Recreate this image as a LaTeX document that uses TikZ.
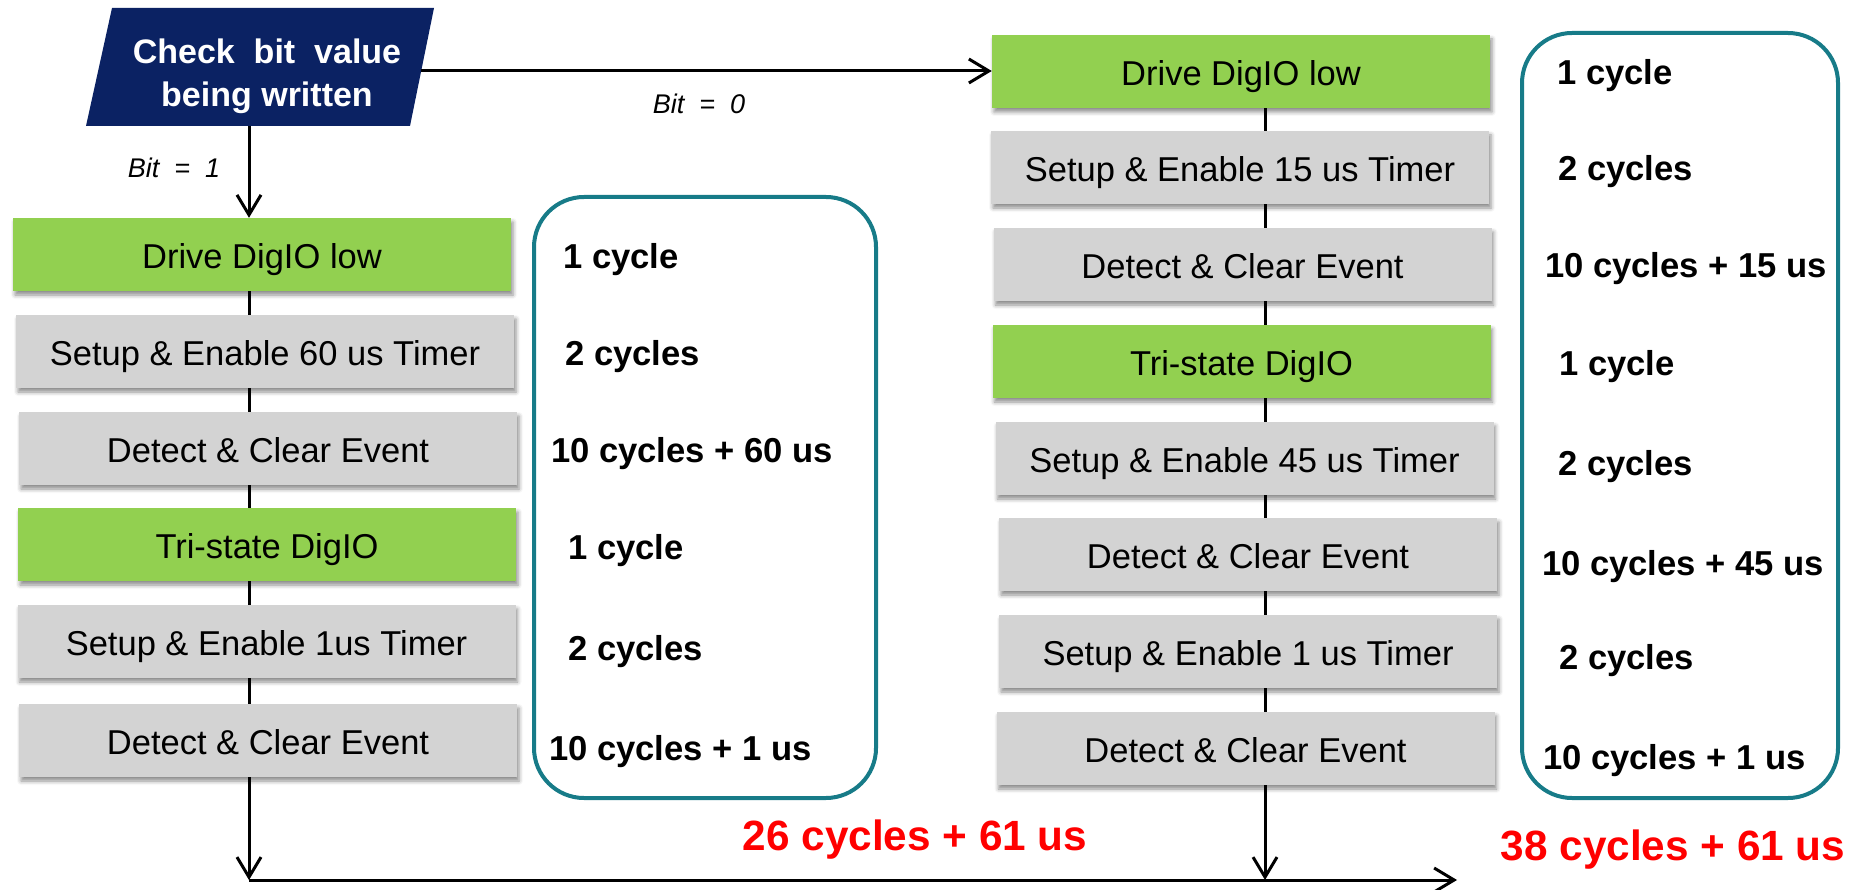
\documentclass[tikz,border=0pt]{standalone}
\usepackage{fontspec}
\setmainfont{Liberation Sans}
\usetikzlibrary{arrows.meta,shadows.blur,calc}

\definecolor{stepgreen}{HTML}{92D050}
\definecolor{stepgray}{HTML}{D3D3D3}
\definecolor{navy}{HTML}{0B2263}
\definecolor{tealline}{HTML}{177B88}
\definecolor{totalred}{HTML}{FF0000}

\tikzset{
  stepbox/.style={minimum width=498pt, minimum height=73pt, inner sep=0pt,
    text height=35pt, text depth=7pt,
    font=\fontsize{34.5}{40}\selectfont,
    blur shadow={shadow xshift=2pt, shadow yshift=-4pt, shadow blur radius=4pt, shadow opacity=45}},
  greenbox/.style={stepbox, fill=stepgreen},
  graybox/.style={stepbox, fill=stepgray},
  timebox/.style={draw=tealline, line width=4pt, rounded corners=50pt, inner sep=0pt},
  cyc/.style={anchor=west, inner sep=0pt, yshift=-4pt, font=\fontsize{34.6}{40}\selectfont\bfseries},
  total/.style={inner sep=0pt, yshift=-3pt, text=totalred, font=\fontsize{42.3}{48}\selectfont\bfseries},
  bitlabel/.style={inner sep=0pt, font=\fontsize{27}{32}\selectfont\itshape},
  link/.style={line width=3pt},
  flow/.style={line width=3pt, -{Straight Barb[length=20pt, width=24pt, line width=3pt]}}
}

\begin{document}
\begin{tikzpicture}[x=1pt, y=-1pt]
\useasboundingbox (0,0) rectangle (1851,890);

% decision block
\fill[navy] (112,8) -- (434,8) -- (410,126) -- (86,126) -- cycle;
\node[text=white, align=center, inner sep=0pt, font=\fontsize{34}{43}\selectfont\bfseries]
  (check) at (267,76) {Check\ \ bit\ \ value\\being written};
\coordinate (chkR) at (421,71);
\coordinate (chkB) at (249,126);
\coordinate (spineL) at (249,0);
\coordinate (spineR) at (1265,0);

% vertical spines (drawn first so the boxes sit on top)
\coordinate (l1n) at (249,218);
\coordinate (l6s) at (249,777);
\coordinate (r1s) at (1265,108);
\coordinate (r8s) at (1265,785);
\draw[link] (l1n) -- (l6s);
\draw[link] (r1s) -- (r8s);

% left branch (Bit = 1)
\node[greenbox] (l1) at (262,254.5) {Drive DigIO low};
\node[graybox]  (l2) at (265,351.5) {Setup \& Enable 60 us Timer};
\node[graybox]  (l3) at (268,448.5) {Detect \& Clear Event};
\node[greenbox] (l4) at (267,544.5) {Tri-state DigIO};
\node[graybox]  (l5) at (266.5,641.5) {Setup \& Enable 1us Timer};
\node[graybox]  (l6) at (268,740.5) {Detect \& Clear Event};

% right branch (Bit = 0)
\node[greenbox] (r1) at (1241,71.5) {Drive DigIO low};
\node[graybox]  (r2) at (1240,167.5) {Setup \& Enable 15 us Timer};
\node[graybox]  (r3) at (1242.5,264.5) {Detect \& Clear Event};
\node[greenbox] (r4) at (1241.5,361.5) {Tri-state DigIO};
\node[graybox]  (r5) at (1244.5,458.5) {Setup \& Enable 45 us Timer};
\node[graybox]  (r6) at (1248,554.5) {Detect \& Clear Event};
\node[graybox]  (r7) at (1248,651.5) {Setup \& Enable 1 us Timer};
\node[graybox]  (r8) at (1245.5,748.5) {Detect \& Clear Event};

% timing frames
\node[timebox, minimum width=342pt, minimum height=601pt] (tl) at (705,497.5) {};
\node[timebox, minimum width=316pt, minimum height=765pt] (tr) at (1680,415.5) {};

% cycle counts, left branch
\node[cyc] (cl1) at (563,256) {1 cycle};
\node[cyc] (cl2) at (565,353) {2 cycles};
\node[cyc] (cl3) at (551,450) {10 cycles + 60 us};
\node[cyc] (cl4) at (568,547) {1 cycle};
\node[cyc] (cl5) at (568,648) {2 cycles};
\node[cyc] (cl6) at (549,748) {10 cycles + 1 us};

% cycle counts, right branch
\node[cyc] (cr1) at (1557,72) {1 cycle};
\node[cyc] (cr2) at (1558,168) {2 cycles};
\node[cyc] (cr3) at (1545,265) {10 cycles + 15 us};
\node[cyc] (cr4) at (1559,363) {1 cycle};
\node[cyc] (cr5) at (1558,463) {2 cycles};
\node[cyc] (cr6) at (1542,563) {10 cycles + 45 us};
\node[cyc] (cr7) at (1559,657) {2 cycles};
\node[cyc] (cr8) at (1543,757) {10 cycles + 1 us};

% totals
\node[total] (tot1) at (915,837) {26 cycles + 61 us};
\node[total] (tot2) at (1673,847) {38 cycles + 61 us};

% branch labels
\node[bitlabel] (b1) at (174,168) {Bit\ \ =\ \ 1};
\node[bitlabel] (b0) at (699,104) {Bit\ \ =\ \ 0};

% flow arrows
\draw[flow] (chkB) -- (l1.north -| spineL);
\draw[flow] (chkR) -- (r1.west |- chkR);

\coordinate (joinL) at (249,880);
\coordinate (joinR) at (1265,880);
\coordinate (exit) at (1457,880);
\draw[flow] (l6.south -| spineL) -- (joinL);
\draw[flow] (r8.south -| spineR) -- (joinR);
\draw[flow] (joinL) -- (exit);
\end{tikzpicture}
\end{document}
